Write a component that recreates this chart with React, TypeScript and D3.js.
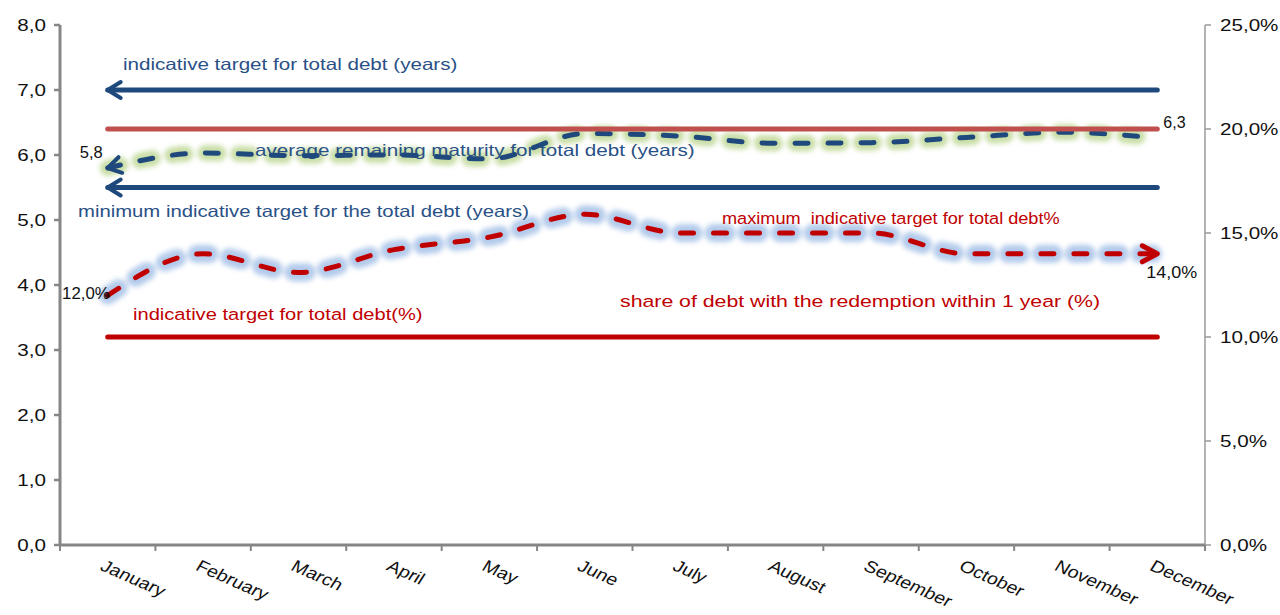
import React from "react";
import * as d3 from "d3";

const months = [
  "January", "February", "March", "April", "May", "June",
  "July", "August", "September", "October", "November", "December",
];
// average remaining maturity for total debt (years) – left axis
const avgMaturityYears = [5.8, 6.03, 5.99, 6.0, 5.94, 6.33, 6.29, 6.18, 6.19, 6.27, 6.35, 6.26];
// share of debt with redemption within 1 year (%) – right axis
const shortTermDebtShare = [12.0, 14.0, 13.1, 14.2, 14.8, 15.9, 15.0, 15.0, 15.0, 14.0, 14.0, 14.0];
const indicativeTargetYears = 7.0;
const minTargetYears = 5.5;
const maxTargetPct = 20;
const indicativeTargetPct = 10;
const leftTicks = [0, 1, 2, 3, 4, 5, 6, 7, 8];
const rightTicks = [0, 5, 10, 15, 20, 25];

const W = 1280;
const H = 615;
const FONT = "'Liberation Sans', Arial, Helvetica, sans-serif";
const BLUE = "#1F497D";
const BLUE_TXT = "#2A5186";
const RED = "#C00000";
const SALMON = "#C0504D";
const AXIS = "#868686";

type TProps = {
  x: number; y: number; anchor?: "start" | "end" | "middle"; size?: number;
  fill?: string; sx?: number; children: React.ReactNode;
};
function T({ x, y, anchor = "start", size = 16.5, fill = "#111", sx = 1.25, children }: TProps) {
  return (
    <text transform={`translate(${x},${y}) scale(${sx},1)`} textAnchor={anchor}
      fontSize={size} fill={fill} fontFamily={FONT} style={{ whiteSpace: "pre" }}>{children}</text>
  );
}

export default function App() {
  const x = d3.scaleBand<string>().domain(months).range([60, 1205]).padding(0);
  const cx = (m: string) => (x(m) as number) + x.bandwidth() / 2;
  const yL = d3.scaleLinear().domain([0, 8]).range([545, 25]);
  const yR = d3.scaleLinear().domain([0, 25]).range([545, 25]);

  const curve = d3.curveMonotoneX;
  const lineL = d3.line<number>().x((_, i) => cx(months[i])).y((d) => yL(d)).curve(curve);
  const lineR = d3.line<number>().x((_, i) => cx(months[i])).y((d) => yR(d)).curve(curve);

  const x0 = cx(months[0]);
  const x1 = cx(months[months.length - 1]);
  const fmtL = (v: number) => d3.format(".1f")(v).replace(".", ",");
  const fmtR = (v: number) => d3.format(".1f")(v).replace(".", ",") + "%";

  const matPath = lineL(avgMaturityYears) as string;
  const sharePath = lineR(shortTermDebtShare) as string;
  const dash = "13 20";

  const boundaries = d3.range(months.length + 1).map((i) => 60 + i * x.bandwidth());

  return (
    <svg width={W} height={H} style={{ position: "absolute", left: 0, top: 0, background: "#fff" }}>
      <defs>
        <filter id="glow" x="-10%" y="-50%" width="120%" height="200%">
          <feGaussianBlur stdDeviation="2.6" />
        </filter>
        <marker id="arrowBlue" markerUnits="userSpaceOnUse" markerWidth="30" markerHeight="30"
          viewBox="-20 -15 30 30" refX="0" refY="0" orient="auto-start-reverse">
          <path d="M-13,-8 L0,0 L-13,8" fill="none" stroke={BLUE} strokeWidth={4} strokeLinecap="round" strokeLinejoin="round" />
        </marker>
        <marker id="arrowRed" markerUnits="userSpaceOnUse" markerWidth="30" markerHeight="30"
          viewBox="-20 -15 30 30" refX="0" refY="0" orient="auto-start-reverse">
          <path d="M-15,-8 L0,0 L-15,8" fill="none" stroke={RED} strokeWidth={5} strokeLinecap="round" strokeLinejoin="round" />
        </marker>
      </defs>

      {/* axes */}
      <line x1={60} x2={60} y1={yL(8)} y2={yL(0)} stroke={AXIS} strokeWidth={3} />
      {leftTicks.map((t) => (
        <g key={"l" + t}>
          <line x1={54} x2={60} y1={yL(t)} y2={yL(t)} stroke={AXIS} strokeWidth={2.5} />
          <T x={46} y={yL(t) + 6} anchor="end">{fmtL(t)}</T>
        </g>
      ))}
      <line x1={1205} x2={1205} y1={yR(25)} y2={yR(0)} stroke="#9a9a9a" strokeWidth={1.5} />
      {rightTicks.map((t) => (
        <g key={"r" + t}>
          <line x1={1205} x2={1211} y1={yR(t)} y2={yR(t)} stroke="#9a9a9a" strokeWidth={1.5} />
          <T x={1220} y={yR(t) + 6}>{fmtR(t)}</T>
        </g>
      ))}
      <line x1={60} x2={1205} y1={545} y2={545} stroke={AXIS} strokeWidth={3} />
      {boundaries.map((b, i) => (
        <line key={"b" + i} x1={b} x2={b} y1={545} y2={551} stroke={AXIS} strokeWidth={2} />
      ))}
      {months.map((m) => (
        <text key={m} transform={`translate(${cx(m) - 2},${559}) scale(1.2,1) rotate(28)`}
          dy="0.72em" fontSize={16.5} fill="#111" fontFamily={FONT}>{m}</text>
      ))}

      {/* glows */}
      <path d={matPath} fill="none" stroke="#C3DA9C" strokeWidth={16} strokeDasharray={dash}
        strokeLinecap="round" filter="url(#glow)" opacity={0.9} />
      <path d={sharePath} fill="none" stroke="#AFC8EA" strokeWidth={18} strokeDasharray={dash}
        strokeLinecap="round" filter="url(#glow)" opacity={0.95} />

      {/* annotations */}
      <T x={123} y={70} fill={BLUE_TXT}>indicative target for total debt (years)</T>
      <T x={255} y={156} fill={BLUE_TXT}>average remaining maturity for total debt (years)</T>
      <T x={78} y={217} fill={BLUE_TXT} sx={1.23}>minimum indicative target for the total debt (years)</T>
      <T x={722} y={224} fill={RED} sx={1.1}>{"maximum  indicative target for total debt%"}</T>
      <T x={620} y={307} fill={RED} sx={1.29}>share of debt with the redemption within 1 year (%)</T>
      <T x={133} y={320} fill={RED} sx={1.22}>indicative target for total debt(%)</T>

      {/* target lines */}
      <line x1={x0} x2={x1} y1={yL(indicativeTargetYears)} y2={yL(indicativeTargetYears)}
        stroke={BLUE} strokeWidth={5} strokeLinecap="round" markerStart="url(#arrowBlue)" />
      <line x1={x0} x2={x1} y1={yL(minTargetYears)} y2={yL(minTargetYears)}
        stroke={BLUE} strokeWidth={5} strokeLinecap="round" markerStart="url(#arrowBlue)" />
      <line x1={x0} x2={x1} y1={yR(indicativeTargetPct)} y2={yR(indicativeTargetPct)}
        stroke={RED} strokeWidth={5} strokeLinecap="round" />

      {/* series */}
      <path d={matPath} fill="none" stroke={BLUE} strokeWidth={5} strokeDasharray={dash}
        strokeLinecap="round" markerStart="url(#arrowBlue)" />
      <line x1={x0} x2={x1} y1={yR(maxTargetPct)} y2={yR(maxTargetPct)}
        stroke={SALMON} strokeWidth={5} strokeLinecap="round" />
      <path d={sharePath} fill="none" stroke={RED} strokeWidth={5} strokeDasharray={dash}
        strokeLinecap="round" markerEnd="url(#arrowRed)" />
      <circle cx={x0} cy={yR(shortTermDebtShare[0])} r={2.5} fill="#5a0000" />

      {/* data labels */}
      <T x={x0 - 5} y={yL(avgMaturityYears[0]) - 10} anchor="end" size={16} sx={1.03}>
        {fmtL(avgMaturityYears[0])}
      </T>
      <T x={x1 + 6} y={yL(avgMaturityYears[11]) - 10} size={16} sx={1.0}>
        {d3.format(".1f")(avgMaturityYears[11]).replace(".", ",")}
      </T>
      <T x={x0 + 2} y={yR(shortTermDebtShare[0]) + 4} anchor="end" size={16} sx={1.05}>
        {fmtR(shortTermDebtShare[0])}
      </T>
      <T x={x1 - 11} y={yR(shortTermDebtShare[11]) + 24} size={16} sx={1.12}>
        {fmtR(shortTermDebtShare[11])}
      </T>
    </svg>
  );
}
